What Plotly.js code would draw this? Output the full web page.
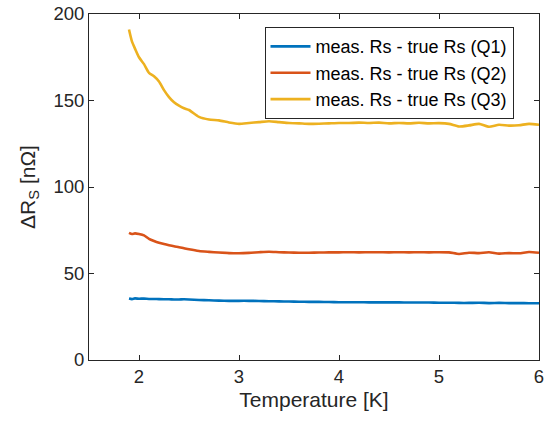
<!DOCTYPE html>
<html>
<head>
<meta charset="utf-8">
<script src="https://cdn.plot.ly/plotly-3.0.1.min.js"></script>
<style>html,body{margin:0;padding:0;background:#fff;}#chart{width:551px;height:426px;}</style>
</head>
<body>
<div id="chart"></div>
<script>
const temperature = [1.90,1.93,1.96,2.00,2.05,2.10,2.15,2.20,2.25,2.30,2.35,2.40,2.45,2.50,2.60,2.70,2.80,2.90,3.00,3.10,3.20,3.30,3.40,3.50,3.60,3.70,3.80,3.90,4.00,4.10,4.20,4.30,4.40,4.50,4.60,4.70,4.80,4.90,5.00,5.10,5.20,5.30,5.40,5.50,5.60,5.70,5.80,5.90,6.00];
const q1 = [35.5,35.2,35.6,35.4,35.5,35.3,35.3,35.2,35.1,35.1,35.0,35.0,35.1,35.0,34.7,34.5,34.3,34.2,34.2,34.2,34.1,34.0,33.9,33.8,33.7,33.6,33.6,33.5,33.4,33.4,33.4,33.3,33.3,33.3,33.3,33.2,33.2,33.2,33.1,33.1,33.0,33.0,33.1,32.9,33.0,32.9,32.9,32.8,32.8];
const q2 = [73.5,72.8,73.2,72.8,72.0,70.0,68.8,67.8,67.0,66.3,65.7,65.2,64.6,64.0,63.0,62.5,62.1,61.8,61.7,61.9,62.3,62.6,62.3,62.1,62.0,62.0,62.1,62.2,62.2,62.3,62.2,62.3,62.3,62.2,62.3,62.2,62.3,62.2,62.3,62.2,61.3,62.0,61.8,62.3,61.5,61.8,61.7,62.4,62.0];
const q3 = [191.0,184.0,180.0,175.0,171.0,166.0,164.0,161.0,156.0,152.0,149.0,147.0,145.5,144.5,140.5,139.0,138.5,137.3,136.5,137.0,137.5,138.0,137.5,137.0,136.8,136.5,136.6,136.8,137.0,137.0,137.2,137.0,137.2,136.8,137.0,136.8,137.1,136.8,136.9,136.5,135.0,135.6,136.5,134.8,136.0,135.5,135.7,136.5,136.0];
const seriesNames = ["meas. Rs - true Rs (Q1)","meas. Rs - true Rs (Q2)","meas. Rs - true Rs (Q3)"];
const colors = ["#0072BD","#D95319","#EDB120"];
const xTicks = [2,3,4,5,6];
const yTicks = [0,50,100,150,200];

const font = "Liberation Sans, Arial, Helvetica, sans-serif";
const data = [q1,q2,q3].map((ys,i)=>({
  x: temperature, y: ys, type: "scatter", mode: "lines", name: seriesNames[i],
  line: {color: colors[i], width: 2.6, shape: "spline", smoothing: 0.6}
}));
const axisCommon = {
  showgrid: false, zeroline: false, showline: true, linecolor: "#262626", linewidth: 1,
  mirror: "ticks", ticks: "inside", ticklen: 5, tickcolor: "#262626", tickwidth: 1,
  tickfont: {family: font, size: 18.5, color: "#262626"}
};
const layout = {
  width: 551, height: 426,
  margin: {l: 89, r: 12, t: 14, b: 66},
  paper_bgcolor: "#fff", plot_bgcolor: "#fff",
  showlegend: true,
  legend: {x: 0.39, y: 0.962, xanchor: "left", yanchor: "top",
    bgcolor: "#fff", bordercolor: "#262626", borderwidth: 1,
    font: {family: font, size: 18, color: "#000"}, tracegroupgap: 0, itemwidth: 40},
  xaxis: Object.assign({}, axisCommon, {range: [1.5, 6], tickvals: xTicks,
    title: {text: "Temperature [K]", font: {family: font, size: 21, color: "#262626"}, standoff: 6}}),
  yaxis: Object.assign({}, axisCommon, {range: [0, 200], tickvals: yTicks,
    title: {text: "ΔR<sub>S</sub> [nΩ]", font: {family: font, size: 21, color: "#262626"}, standoff: 12}})
};
Plotly.newPlot("chart", data, layout, {displayModeBar: false, staticPlot: true});
</script>
</body>
</html>
